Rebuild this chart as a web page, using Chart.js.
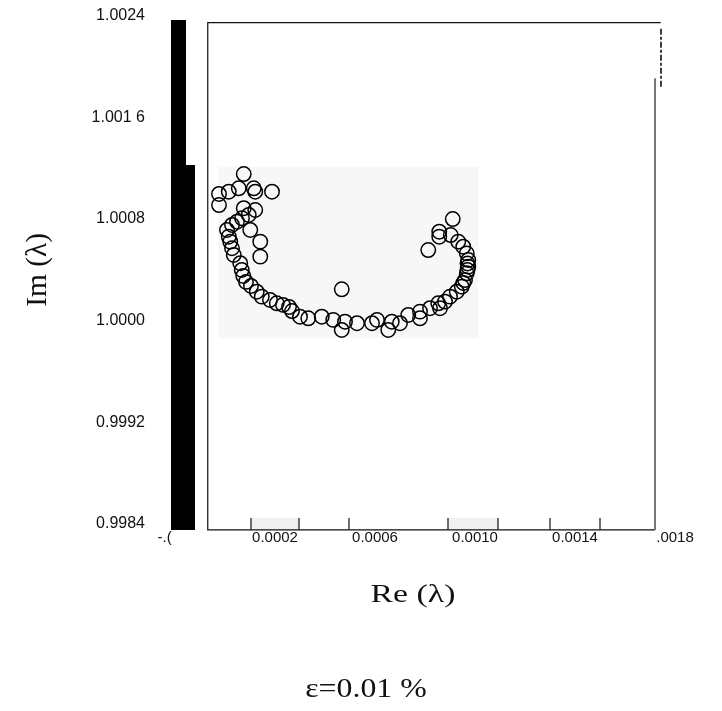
<!DOCTYPE html>
<html>
<head>
<meta charset="utf-8">
<script src="https://cdn.jsdelivr.net/npm/chart.js@4.4.1/dist/chart.umd.min.js"></script>
<style>
  body { margin: 0; background: #fff; }
  #wrap { width: 722px; height: 711px; }
</style>
</head>
<body>
<div id="wrap"><canvas id="eigenChart"></canvas></div>
<script>
// eigenvalue locus, Re(lambda) vs Im(lambda)
const reLambda = [
  0.000075, 0.000015, 0.000055, 0.000115, 0.000121, 0.000188, -0.000024, -0.000024, 0.000075, 0.000121,
  0.000095, 0.000068, 0.000048, 0.000028, 0.000101, 0.000008, 0.000015, 0.000021, 0.000141, 0.000028,
  0.000141, 0.000035, 0.000061, 0.000067, 0.000073, 0.000084, 0.000104, 0.000127, 0.000147, 0.00018,
  0.000207, 0.000232, 0.000256, 0.000268, 0.0003, 0.000333, 0.000387, 0.000433, 0.000467, 0.00048,
  0.000467, 0.000528, 0.000588, 0.000608, 0.000653, 0.000667, 0.0007, 0.000733, 0.00078, 0.00078,
  0.00082, 0.000853, 0.00086, 0.00088, 0.0009, 0.000927, 0.000947, 0.00096, 0.000967, 0.000973,
  0.000973, 0.000967, 0.000953, 0.000933, 0.000911, 0.000857, 0.000857, 0.000903, 0.000813, 0.00097,
  0.00097, 0.000953
];
const imLambda = [
  1.001154, 1.001015, 1.001042, 1.001042, 1.001015, 1.001015, 1.000997, 1.00091, 1.000885, 1.000871,
  1.000832, 1.000806, 1.000779, 1.000753, 1.000714, 1.000714, 1.000661, 1.000622, 1.000622, 1.00057,
  1.000504, 1.000517, 1.000452, 1.000399, 1.000352, 1.000305, 1.000273, 1.000228, 1.000189, 1.000163,
  1.000137, 1.000124, 1.000108, 1.000076, 1.000031, 1.000019, 1.000031, 1.000006, 1.000247, 0.999992,
  0.999927, 0.99998, 0.99998, 1.000006, 0.999927, 0.999992, 0.99998, 1.000045, 1.000071, 1.000019,
  1.000098, 1.000137, 1.000098, 1.00015, 1.000189, 1.000228, 1.000268, 1.00032, 1.000373, 1.000425,
  1.000478, 1.00053, 1.000582, 1.000622, 1.0008, 1.0007, 1.000661, 1.000674, 1.000556, 1.00045,
  1.000399, 1.000297
];

const xTickValues = [-0.0002, 0.0002, 0.0006, 0.0010, 0.0014, 0.0018];
const xTickLabels = ["-.(     ", "0.0002", "0.0006", "0.0010", "0.0014", ".0018"];
const yTickValues = [0.9984, 0.9992, 1.0000, 1.0008, 1.0016, 1.0024];
const yTickLabels = ["0.9984", "0.9992", "1.0000", "1.0008", "1.001 6", "1.0024"];

const xTitle = "Re (\u03bb)";
const yTitle = "Im (\u03bb)";
const caption = "\u03b5=0.01 %";

// box, bars and small marks around the plot, in axis units
const deco = {
  left: -0.000069, right: 0.00172, topRight: 0.001743,
  top: 1.002345, bottom: 0.998353, rightTop: 1.001908,
  dashX: 0.001744, dashTop: 1.002298, dashBottom: 1.001838,
  bars: [[-0.000216, -0.000156, 1.002366], [-0.000156, -0.00012, 1.001225]],
  shade: [-0.000028, 0.001013, 1.001212, 0.999862],
  minor: [0.000104, 0.000296, 0.000496, 0.000892, 0.001092, 0.0013, 0.0015],
  minorTop: 0.998447,
  bands: [[0.000104, 0.000296], [0.000892, 0.001092]]
};

const points = reLambda.map((re, i) => ({ x: re, y: imLambda[i] }));

const backdrop = {
  id: "backdrop",
  beforeDraw(chart) {
    const ctx = chart.ctx;
    ctx.save();
    ctx.fillStyle = "#fff";
    ctx.fillRect(0, 0, chart.width, chart.height);
    ctx.restore();
  },
  beforeDatasetsDraw(chart) {
    const ctx = chart.ctx;
    const xs = chart.scales.x, ys = chart.scales.y;
    const px = (v) => xs.getPixelForValue(v);
    const py = (v) => ys.getPixelForValue(v);
    ctx.save();
    // light panel behind the points
    const s = deco.shade;
    ctx.fillStyle = "#f7f7f7";
    ctx.fillRect(px(s[0]), py(s[2]), px(s[1]) - px(s[0]), py(s[3]) - py(s[2]));
    // shaded bands along the bottom
    ctx.fillStyle = "#f0f0f0";
    deco.bands.forEach((b) => {
      ctx.fillRect(px(b[0]), py(deco.minorTop), px(b[1]) - px(b[0]), py(deco.bottom) - py(deco.minorTop));
    });
    // black bars left of the box
    ctx.fillStyle = "#000";
    deco.bars.forEach((b) => {
      ctx.fillRect(px(b[0]), py(b[2]), px(b[1]) - px(b[0]), py(deco.bottom) - py(b[2]));
    });
    // box
    ctx.strokeStyle = "#111";
    ctx.lineWidth = 1.2;
    ctx.beginPath();
    ctx.moveTo(px(deco.topRight), py(deco.top));
    ctx.lineTo(px(deco.left), py(deco.top));
    ctx.lineTo(px(deco.left), py(deco.bottom));
    ctx.lineTo(px(deco.right), py(deco.bottom));
    ctx.stroke();
    ctx.strokeStyle = "#777";
    ctx.lineWidth = 2;
    ctx.beginPath();
    ctx.moveTo(px(deco.right), py(deco.rightTop));
    ctx.lineTo(px(deco.right), py(deco.bottom));
    ctx.stroke();
    ctx.strokeStyle = "#000";
    ctx.lineWidth = 1.5;
    ctx.setLineDash([6, 2, 3, 2]);
    ctx.beginPath();
    ctx.moveTo(px(deco.dashX), py(deco.dashTop));
    ctx.lineTo(px(deco.dashX), py(deco.dashBottom));
    ctx.stroke();
    ctx.setLineDash([]);
    // minor ticks
    ctx.strokeStyle = "#222";
    ctx.lineWidth = 1.3;
    deco.minor.forEach((v) => {
      ctx.beginPath();
      ctx.moveTo(px(v), py(deco.minorTop));
      ctx.lineTo(px(v), py(deco.bottom));
      ctx.stroke();
    });
    ctx.restore();
  },
  afterDraw(chart) {
    const ctx = chart.ctx;
    const a = chart.chartArea;
    ctx.save();
    ctx.fillStyle = "#111";
    ctx.textAlign = "center";
    ctx.textBaseline = "middle";
    // x title
    ctx.save();
    ctx.translate(a.left + 238, a.bottom + 71);
    ctx.scale(1.3, 1);
    ctx.font = "26px 'Liberation Serif', 'Times New Roman', serif";
    ctx.fillText(xTitle, 0, 0);
    ctx.restore();
    // caption under the chart
    ctx.save();
    ctx.translate(a.left + 191, a.bottom + 166);
    ctx.scale(1.18, 1);
    ctx.font = "27px 'Liberation Serif', 'Times New Roman', serif";
    ctx.fillText(caption, 0, 0);
    ctx.restore();
    // y title
    ctx.save();
    ctx.translate(a.left - 137, (a.top + a.bottom) / 2);
    ctx.rotate(-Math.PI / 2);
    ctx.scale(1.13, 1.15);
    ctx.font = "26px 'Liberation Serif', 'Times New Roman', serif";
    ctx.fillText(yTitle, 0, 0);
    ctx.restore();
    ctx.restore();
  }
};

new Chart(document.getElementById("eigenChart"), {
  type: "scatter",
  data: {
    datasets: [
      {
        data: points,
        pointStyle: "circle",
        pointRadius: 7.2,
        pointHoverRadius: 7.2,
        borderColor: "#000",
        borderWidth: 1.5,
        backgroundColor: "rgba(0,0,0,0)",
      },
    ],
  },
  options: {
    responsive: true,
    maintainAspectRatio: false,
    animation: false,
    layout: { autoPadding: false, padding: { left: 0, right: 47, top: 15.7, bottom: 0 } },
    plugins: {
      legend: { display: false },
      tooltip: { enabled: false },
    },
    scales: {
      x: {
        type: "linear",
        min: -0.0002,
        max: 0.0018,
        grid: { display: false, drawTicks: false },
        border: { display: false },
        afterBuildTicks: (scale) => {
          scale.ticks = xTickValues.map((v) => ({ value: v }));
        },
        afterFit: (scale) => {
          scale.height = 187;
          scale.paddingLeft = 0;
          scale.paddingRight = 0;
        },
        ticks: {
          autoSkip: false,
          maxRotation: 0,
          padding: 5,
          color: "#111",
          font: { family: "'Liberation Sans', Arial, sans-serif", size: 15 },
          callback: (v, i) => xTickLabels[i],
        },
      },
      y: {
        type: "linear",
        min: 0.9984,
        max: 1.0024,
        grid: { display: false, drawTicks: false },
        border: { display: false },
        afterBuildTicks: (scale) => {
          scale.ticks = yTickValues.map((v) => ({ value: v }));
        },
        afterFit: (scale) => {
          // labels sit right on the top and bottom edges, no extra room
          scale.width = 175;
          scale.paddingTop = 0;
          scale.paddingBottom = 0;
        },
        ticks: {
          autoSkip: false,
          padding: 30,
          color: "#111",
          font: { family: "'Liberation Sans', Arial, sans-serif", size: 16 },
          callback: (v, i) => yTickLabels[i],
        },
      },
    },
  },
  plugins: [backdrop],
});
</script>
</body>
</html>
